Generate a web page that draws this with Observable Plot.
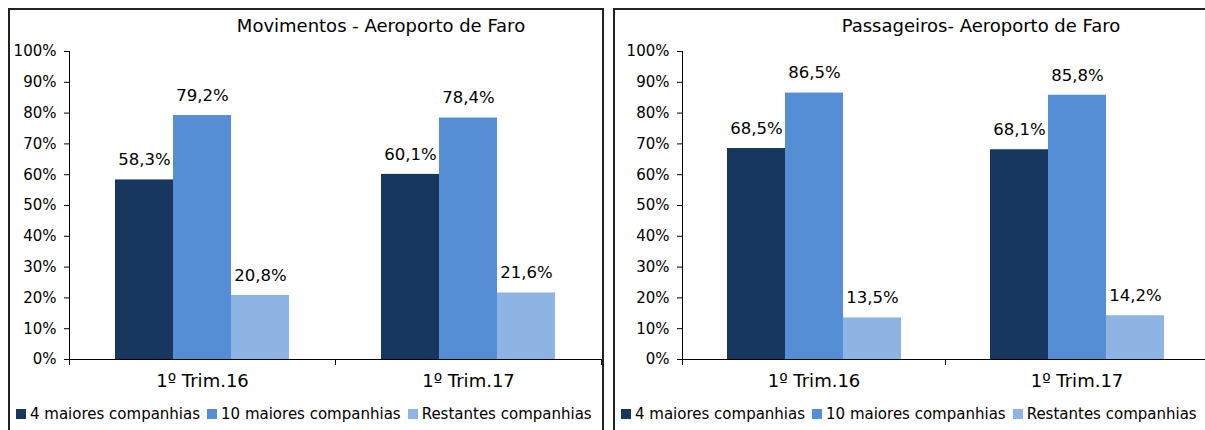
<!DOCTYPE html>
<html><head><meta charset="utf-8">
<script src="https://cdn.jsdelivr.net/npm/d3@7"></script>
<script src="https://cdn.jsdelivr.net/npm/@observablehq/plot@0.6"></script>
<style>
body{margin:0;width:1205px;height:430px;overflow:hidden;background:#fff;font-family:"DejaVu Sans",sans-serif;position:relative}
.panel{position:absolute;top:8px;height:440px;border:2px solid #222;box-sizing:border-box;background:#fff}
.title{position:absolute;top:5px;transform:translateX(-50%);white-space:nowrap;font-size:18px;color:#000}
.chart{position:absolute;top:30px;left:0}
.legend{position:absolute;top:395px;left:6px;display:flex;gap:7px;font-size:15px;white-space:nowrap;color:#000}
.legend span{display:inline-flex;align-items:center}
.legend i{display:inline-block;width:10px;height:10px;margin-right:4px}
</style></head>
<body>
<div class="panel" id="p1" style="left:8px;width:596px"></div>
<div class="panel" id="p2" style="left:613px;width:620px"></div>
<script>
const periods = ["1º Trim.16", "1º Trim.17"];
const series = ["4 maiores companhias", "10 maiores companhias", "Restantes companhias"];
const colors = ["#17375E", "#558ED5", "#8EB4E3"];
const movimentos = [[58.3, 79.2, 20.8], [60.1, 78.4, 21.6]];
const passageiros = [[68.5, 86.5, 13.5], [68.1, 85.8, 14.2]];
const yTicks = [0, 10, 20, 30, 40, 50, 60, 70, 80, 90, 100];
const titles = ["Movimentos - Aeroporto de Faro", "Passageiros- Aeroporto de Faro"];

const loc = d3.formatLocale({decimal: ",", thousands: ".", grouping: [3], currency: ["", "€"]});
const fmt = v => loc.format(".1f")(v) + "%";

function rowsOf(vals) {
  const r = [];
  periods.forEach((p, i) => series.forEach((s, j) => r.push({period: p, series: s, value: vals[i][j]})));
  return r;
}

function build(panelId, vals, title, width, marginLeft, titleX) {
  const panel = document.getElementById(panelId);
  const t = document.createElement("div");
  t.className = "title"; t.textContent = title; t.style.left = titleX + "px";
  panel.appendChild(t);
  const rows = rowsOf(vals);
  const H = 360, mt = 11, mb = 41;
  const innerH = H - mt - mb;
  const chart = Plot.plot({
    width, height: H, marginLeft, marginRight: 0, marginTop: mt, marginBottom: mb,
    style: {fontFamily: "DejaVu Sans, sans-serif", fontSize: "15px", color: "#000", overflow: "visible", background: "transparent"},
    fx: {domain: periods, padding: 0, label: null},
    x: {domain: series, paddingInner: 0, paddingOuter: 0.76, axis: null},
    y: {domain: [0, 100], label: null},
    color: {domain: series, range: colors},
    marks: [
      Plot.barY(rows, {fx: "period", x: "series", y: "value", fill: "series"}),
      Plot.text(rows, {fx: "period", x: "series", y: "value", text: d => fmt(d.value), dy: -20, fontSize: 16.5, fill: "#000"}),
      Plot.axisY({ticks: yTicks, tickFormat: d => d + "%", tickSize: 5, tickPadding: 8, fontSize: 15, stroke: "#000", label: null}),
      Plot.axisFx({anchor: "bottom", tickSize: 0, tickPadding: 15, fontSize: 18, label: null}),
      Plot.ruleY([0], {stroke: "#000"}),
      Plot.frame({anchor: "left", facetAnchor: "left", stroke: "#000"}),
      Plot.frame({anchor: "left", insetTop: innerH, insetBottom: -5, stroke: "#000"}),
      Plot.frame({anchor: "right", insetTop: innerH, insetBottom: -5, stroke: "#000"})
    ]
  });
  chart.classList.add("chart");
  panel.appendChild(chart);
  const lg = document.createElement("div");
  lg.className = "legend";
  series.forEach((s, i) => {
    const sp = document.createElement("span");
    const sw = document.createElement("i");
    sw.style.background = colors[i];
    sp.appendChild(sw);
    sp.appendChild(document.createTextNode(s));
    lg.appendChild(sp);
  });
  panel.appendChild(lg);
}

build("p1", movimentos, titles[0], 591, 58, 371);
build("p2", passageiros, titles[1], 593, 67, 366);
</script>
</body></html>
